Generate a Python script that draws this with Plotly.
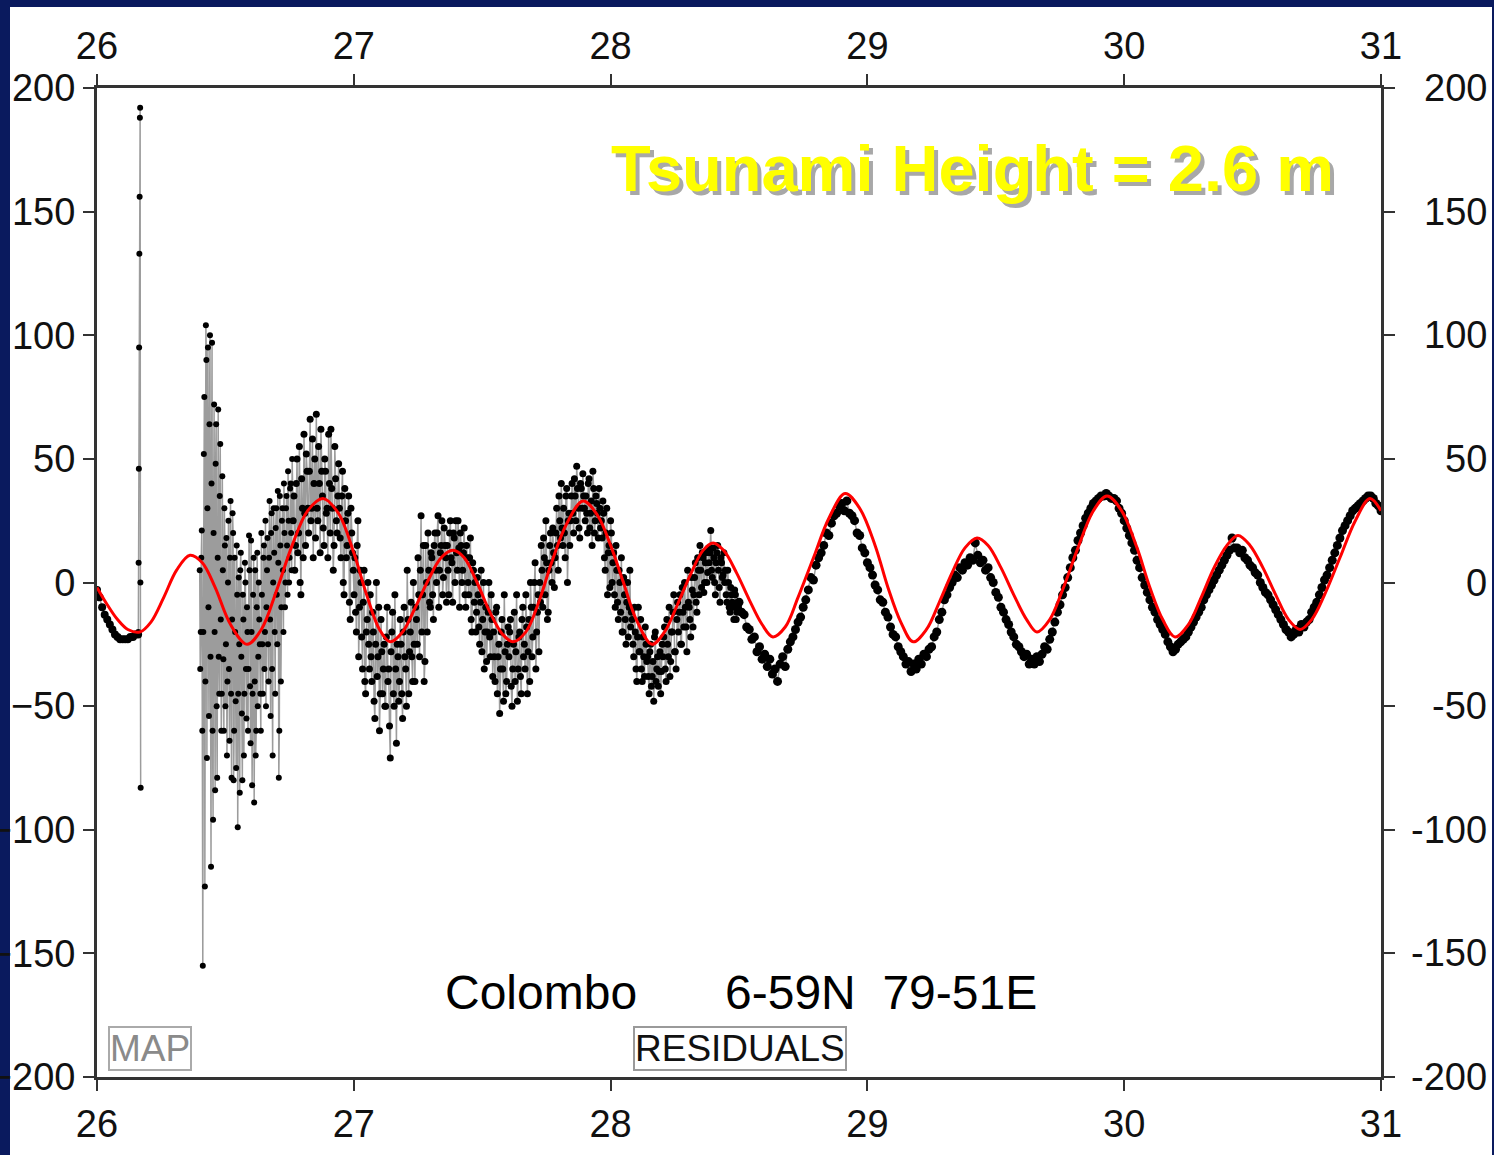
import numpy as np
import plotly.graph_objects as go

# ---------------- data ----------------
# segment A: smooth start, 26.00 .. 26.16 every 0.01 day
seg_a_start, seg_a_step = 26.00, 0.01
seg_a_vals = [-3, -6, -10, -13, -15, -17, -19, -21, -22, -23, -23, -23, -23, -22, -22, -21, -21]

# isolated spike at ~26.165
spike_t = [26.161, 26.162, 26.163, 26.164, 26.165, 26.166, 26.167, 26.168, 26.169, 26.170]
spike_v = [-20, 8, 46, 95, 133, 156, 188, 192, 0, -83]

# segment B: very noisy arrival, samples every 0.002 day (main + in-between readings)
seg_b_start, seg_b_step = 26.400, 0.002
seg_b_vals = [5, -20, 21, -155, 52, -123, 104, -71, 95, -54,
              100, -115, 97, -96, 72, -84, 64, -79, 70, -45,
              56, -60, 43, -31, 30, -50, 18, -40, 25, -64,
              33, -79, 28, -80, 10, -48, 15, -99, 2, -85,
              12, -53, -5, -70, 8, -35, -10, -60, 19, -42,
              17, -82, -5, -89, 5, -60, 12, -30, -15, -45,
              20, -25, 10, -35, 25, -10, 18, -40, 33, -54,
              28, -70, 30, -20, 22, -5, 37, -79, 35, -40,
              25, 5, 40, -10, 30, 15, 45, 0, 38, 20, 50]
seg_b_mid = [-35, 10, -60, -20, 75, -40, 90, 30, -10, 64,
             -30, 40, -60, 20, -20, 48, -50, 10, -30, 35,
             -15, -45, 5, -60, 15, -25, -70, 0, -35, 10,
             -45, -15, 20, -60, -20, -75, -5, -45, -25, 5,
             -30, -80, -15, -45, 0, -55, -20, -35, 5, -65,
             -20, -45, 10, -40, -70, -10, -50, 0, -25, -60,
             -5, -45, 15, -20, -50, 5, -25, 10, -15, 20,
             -35, 0, 12, -45, 30, -25, 8, -60, 15, -10,
             30, -20, 20, 0, 35, -5, 25, 10, 40, 5]

# segment C: noisy oscillations, samples every 0.003 day (main + in-between readings)
seg_c_start, seg_c_step = 26.764, 0.003
seg_c_vals = [25, 5, 40, 12, 55, -5, 30, 60, 15, 45,
              20, 66, 30, 10, 50, 68, 25, 40, 62, 35,
              15, 45, 30, 60, 20, 38, 5, 55, 25, 35,
              30, 10, 45, -5, 25, 15, 35, -15, 20, 5,
              10, -20, 25, -10, 0, -35, 5, -45, -15, -25,
              -5, -40, -20, -55, 0, -30, -60, -15, -45, -25,
              -50, -10, -35, -71, -20, -45, -5, -65, -30, -40,
              -25, -55, -10, -35, 5, -45, -20, -30, 0, -40,
              -15, 10, -30, 27, -5, -40, 15, -20, 5, -10,
              10, -15, 20, 0, 27, 5, 15, -5, 22, 10,
              15, -5, 25, 8, 20, 0, 12, 25, -10, 15,
              5, 22, -10, 10, -5, 18, -20, 5, 0, -12,
              -5, -25, 5, -15, -35, -10, -20, 0, -30, -15,
              -20, -40, -10, -30, -53, -20, -35, -5, -45, -25,
              -30, -15, -50, -25, -40, -5, -35, -20, -45, -10,
              -25, -5, -45, -15, 0, -30, -10, 8, -20, -5,
              0, 15, -10, 10, 25, -15, 5, 20, 0, 12,
              10, 30, 5, 25, 40, 15, 20, 35, 0, 28,
              25, 40, 20, 35, 47, 30, 18, 38, 44, 30,
              35, 20, 42, 28, 15, 38, 25, 32, 18, 30,
              25, 33, 10, 20, -5, 15, 25, 0, 12, -10,
              5, -15, 0, 10, -20, -5, -25, 0, -10, -18,
              -15, -30, -20, -40, -10, -28, -35, -22, -38, -25,
              -30, -45, -25, -38, -48, -20, -35, -42, -28, -36,
              -30, -18, -40, -25, -10, -32, -20, -5, -28, -15,
              -20, -5, -25, -12, 0, -18, 5, -10, -22, -3,
              -5, 8, -12, 5, 15, -2, 10, 0, 12, 4,
              8, 21, 2, 10, -5, 12, 5, -8, 8, 3,
              0, -5, 5, -10, -2, -8, -15, -5, -12, -10]
seg_c_mid = [35, 15, 50, 20, 0, 42, 10, 28, 52, 30,
             45, 25, 58, 40, 18, 30, 55, 12, 45, 22,
             50, 28, 10, 40, 62, 30, 15, 42, 20, 48,
             18, 35, 0, 38, 10, 28, -8, 30, 12, -5,
             -12, 15, -30, 5, -22, -8, -40, -20, 0, -35,
             -30, -12, -48, -25, -38, -10, -45, -28, -35, -50,
             -22, -40, -58, -28, -12, -50, -35, -25, -48, -15,
             -45, -20, -30, -50, -15, -28, -8, -40, -25, -10,
             -25, -5, 5, -20, 15, -32, 0, 20, -8, 12,
             -5, 15, 5, 20, -10, 12, 25, 2, 15, -8,
             5, 20, 10, -8, 18, 25, 5, 14, 20, 0,
             12, -5, 15, 0, 10, -15, 8, -8, -20, 2,
             -18, -8, -28, 0, -20, -32, -12, -22, -5, -38,
             -30, -12, -45, -25, -35, -15, -48, -28, -40, -18,
             -20, -42, -35, -12, -28, -48, -22, -38, -15, -30,
             -35, -18, -28, -40, -10, -22, 0, -35, -12, -28,
             -8, 5, 18, -5, 8, -12, 15, 8, 22, -2,
             20, 15, 35, 18, 22, 30, 10, 38, 25, 15,
             35, 28, 42, 25, 38, 22, 40, 30, 35, 25,
             28, 40, 22, 33, 45, 20, 35, 28, 38, 22,
             18, 28, 5, 30, 12, -2, 20, 8, -5, 15,
             -8, 5, -12, -20, 2, -15, -8, -22, 5, -12,
             -25, -10, -35, -22, -28, -15, -40, -30, -18, -32,
             -38, -28, -42, -32, -22, -40, -30, -36, -45, -25,
             -22, -35, -15, -30, -38, -20, -12, -28, -35, -8,
             -12, -25, -2, -18, -10, -28, -8, -15, 2, -18,
             2, -8, 10, -5, 5, 12, -4, 8, 0, 14,
             12, 5, 14, 0, 8, 15, -2, 10, 2, 12,
             5, -8, 0, -12, -5, -10, -3, -15, -8]

# segment D: calmer tide, every 0.01 day
seg_d_start, seg_d_step = 28.50, 0.01
seg_d_vals = [-8, -12, -13, -18, -19, -23, -22, -28, -26, -31,
              -29, -34, -31, -37, -35, -40, -33, -30, -34, -27,
              -24, -22, -19, -16, -14, -10, -7, -3, 2, 1,
              7, 10, 12, 15, 20, 19, 24, 27, 28, 31,
              32, 29, 33, 28, 27, 25, 20, 19, 14, 12,
              8, 6, 3, -1, -3, -7, -8, -12, -14, -18,
              -21, -22, -26, -28, -30, -33, -32, -36, -33, -35,
              -31, -33, -29, -30, -27, -26, -22, -20, -15, -12,
              -7, -5, -2, 0, 3, 2, 6, 5, 8, 7,
              10, 9, 16, 11, 8, 9, 5, 6, 2, 0,
              -4, -6, -10, -12, -15, -17, -20, -22, -25, -26,
              -28, -30, -29, -33, -31, -33, -30, -32, -29, -26,
              -27, -23, -20, -16, -12, -9, -5, -2, 2, 6,
              10, 13, 17, 20, 23, 26, 28, 30, 32, 33,
              34, 35, 35, 36, 35, 34, 34, 33, 30, 28,
              25, 22, 19, 16, 13, 9, 6, 2, -1, -4,
              -7, -10, -12, -15, -17, -19, -21, -24, -26, -28,
              -27, -25, -24, -23, -22, -20, -18, -16, -14, -12,
              -10, -7, -5, -3, -1, 1, 3, 5, 7, 9,
              11, 13, 18, 14, 14, 12, 13, 10, 9, 7,
              6, 4, 3, 0, -2, -4, -5, -7, -9, -11,
              -13, -15, -17, -19, -20, -22, -21, -19, -20, -17,
              -18, -16, -15, -12, -10, -8, -5, -2, 1, 3,
              6, 9, 12, 15, 18, 21, 23, 25, 27, 29,
              30, 31, 32, 33, 34, 35, 35, 34, 32, 31,
              29]

# red predicted tide curve
tide_t = [26.00, 26.04, 26.08, 26.12, 26.167, 26.21, 26.26, 26.31, 26.362, 26.41,
          26.46, 26.52, 26.584, 26.64, 26.70, 26.76, 26.82, 26.88, 26.94, 27.00,
          27.05, 27.10, 27.141, 27.19, 27.24, 27.29, 27.34, 27.386, 27.43, 27.48,
          27.53, 27.58, 27.62, 27.67, 27.72, 27.77, 27.83, 27.893, 27.95, 28.00,
          28.05, 28.10, 28.161, 28.21, 28.26, 28.31, 28.36, 28.399, 28.44, 28.49,
          28.54, 28.59, 28.632, 28.68, 28.73, 28.79, 28.85, 28.913, 28.97, 29.03,
          29.08, 29.13, 29.178, 29.23, 29.28, 29.33, 29.38, 29.427, 29.47, 29.52,
          29.57, 29.62, 29.66, 29.71, 29.76, 29.82, 29.88, 29.933, 29.99, 30.05,
          30.10, 30.15, 30.198, 30.25, 30.30, 30.35, 30.40, 30.443, 30.49, 30.54,
          30.59, 30.64, 30.685, 30.73, 30.78, 30.84, 30.90, 30.957, 31.00]
tide_v = [-2, -9, -15, -19, -20, -16, -6, 5, 11, 8,
          -2, -17, -25, -19, -3, 15, 29, 34, 28, 12,
          -5, -19, -24, -20, -10, 1, 10, 13, 10, 0,
          -12, -21, -24, -20, -8, 8, 24, 33, 27, 15,
          0, -15, -25, -20, -9, 3, 13, 16, 13, 4,
          -7, -17, -22, -18, -6, 10, 26, 36, 30, 15,
          -2, -16, -24, -19, -8, 4, 14, 18, 15, 6,
          -5, -15, -20, -15, -3, 14, 29, 35, 29, 14,
          -2, -15, -22, -17, -6, 6, 15, 19, 15, 6,
          -5, -15, -19, -15, -5, 10, 25, 34, 29]

x_ticks = [26, 27, 28, 29, 30, 31]
y_ticks = [-200, -150, -100, -50, 0, 50, 100, 150, 200]

# ---------------- assemble observed series ----------------
def seg_times(start, step, n):
    return list(start + step * np.arange(n))

def interleave(main, mid):
    out = []
    for i, v in enumerate(main):
        out.append(v)
        if i < len(mid):
            out.append(mid[i])
    return out

b_all = interleave(seg_b_vals, seg_b_mid)
c_all = interleave(seg_c_vals, seg_c_mid)

obs_x = (seg_times(seg_a_start, seg_a_step, len(seg_a_vals)) + spike_t + [None]
         + seg_times(seg_b_start, seg_b_step, len(b_all))
         + seg_times(seg_c_start, seg_c_step, len(c_all))
         + seg_times(seg_d_start, seg_d_step, len(seg_d_vals)))
obs_y = seg_a_vals + spike_v + [None] + b_all + c_all + seg_d_vals
marker_sizes = ([8] * len(seg_a_vals) + [6] * len(spike_v) + [0] + [6] * len(b_all)
                + [7] * len(c_all) + [9] * len(seg_d_vals))

fig = go.Figure()
fig.add_trace(go.Scatter(
    x=obs_x, y=obs_y, mode="lines+markers",
    line=dict(color="#9c9c9c", width=1.5),
    marker=dict(color="black", size=marker_sizes, symbol="circle", opacity=1,
                line=dict(width=0)),
    connectgaps=False, showlegend=False, hoverinfo="skip"))
fig.add_trace(go.Scatter(
    x=tide_t, y=tide_v, mode="lines", line=dict(color="#ff0000", width=3, shape="spline"),
    showlegend=False, hoverinfo="skip"))
# carrier for the top axis labels
fig.add_trace(go.Scatter(x=[26, 31], y=[0, 0], xaxis="x2", mode="markers",
                         marker=dict(opacity=0), showlegend=False, hoverinfo="skip"))

FONT = "Liberation Sans, Arial, sans-serif"
tick_font = dict(family=FONT, size=38, color="#111111")
axis_common = dict(showgrid=False, zeroline=False, showline=True, linecolor="#333333",
                   linewidth=3, ticks="outside", ticklen=11, tickwidth=2, tickcolor="#333333",
                   tickfont=tick_font, automargin=False)

fig.update_layout(
    width=1494, height=1155,
    margin=dict(l=97, r=113, t=88, b=78, autoexpand=False),
    paper_bgcolor="#0a1a5e", plot_bgcolor="white",
    xaxis=dict(range=[26, 31], tickvals=x_ticks, mirror="ticks", ticklabelstandoff=0, **axis_common),
    xaxis2=dict(range=[26, 31], tickvals=x_ticks, overlaying="x", side="top", showline=False,
                ticks="", showgrid=False, zeroline=False, tickfont=tick_font,
                ticklabelstandoff=20, automargin=False),
    yaxis=dict(range=[-200, 200], tickvals=y_ticks, mirror="ticks", ticklabelstandoff=0, **axis_common),
)

# white slide area behind the chart
fig.add_shape(type="rect", xref="paper", yref="paper",
              x0=(10 - 97) / 1284, x1=(1492 - 97) / 1284,
              y0=-0.1, y1=(1077 - 7) / 989,
              fillcolor="white", line=dict(width=0), layer="below")

# right-hand tick labels, right aligned
for v in y_ticks:
    fig.add_annotation(x=(1489 - 97) / 1284, xref="paper", y=v, yref="y",
                       text=("-" + str(abs(v))) if v < 0 else str(v),
                       showarrow=False, xanchor="right", yanchor="middle", font=tick_font)

fig.add_annotation(x=(972 - 97) / 1284, y=(1077 - 168) / 989, xref="paper", yref="paper",
                   text="<b>Tsunami Height = 2.6 m</b>",
                   showarrow=False, xanchor="center", yanchor="middle",
                   font=dict(family=FONT, size=65, color="#ffff00",
                             shadow="4px 4px 0px #a8a8a8"))

label_font = dict(family=FONT, size=48, color="black")
fig.add_annotation(x=(541 - 97) / 1284, y=(1077 - 992) / 989, xref="paper", yref="paper",
                   text="Colombo", showarrow=False, xanchor="center", yanchor="middle", font=label_font)
fig.add_annotation(x=(881 - 97) / 1284, y=(1077 - 992) / 989, xref="paper", yref="paper",
                   text="6-59N  79-51E", showarrow=False, xanchor="center", yanchor="middle",
                   font=label_font)

fig.add_annotation(x=(740 - 97) / 1284, y=(1077 - 1048) / 989, xref="paper", yref="paper",
                   text="RESIDUALS", showarrow=False, xanchor="center", yanchor="middle",
                   bordercolor="#9a9a9a", borderwidth=2, borderpad=0, bgcolor="white",
                   font=dict(family=FONT, size=37, color="#111111"))
fig.add_annotation(x=(150 - 97) / 1284, y=(1077 - 1048) / 989, xref="paper", yref="paper",
                   text="MAP", showarrow=False, xanchor="center", yanchor="middle",
                   bordercolor="#aaaaaa", borderwidth=2, borderpad=0, bgcolor="white",
                   font=dict(family=FONT, size=37, color="#8a8a8a"))

fig.write_html("out.html", config={"displayModeBar": False},
               post_script="document.body.style.margin='0';document.body.style.overflow='hidden';"
                           "document.body.style.background='#0a1a5e';")
